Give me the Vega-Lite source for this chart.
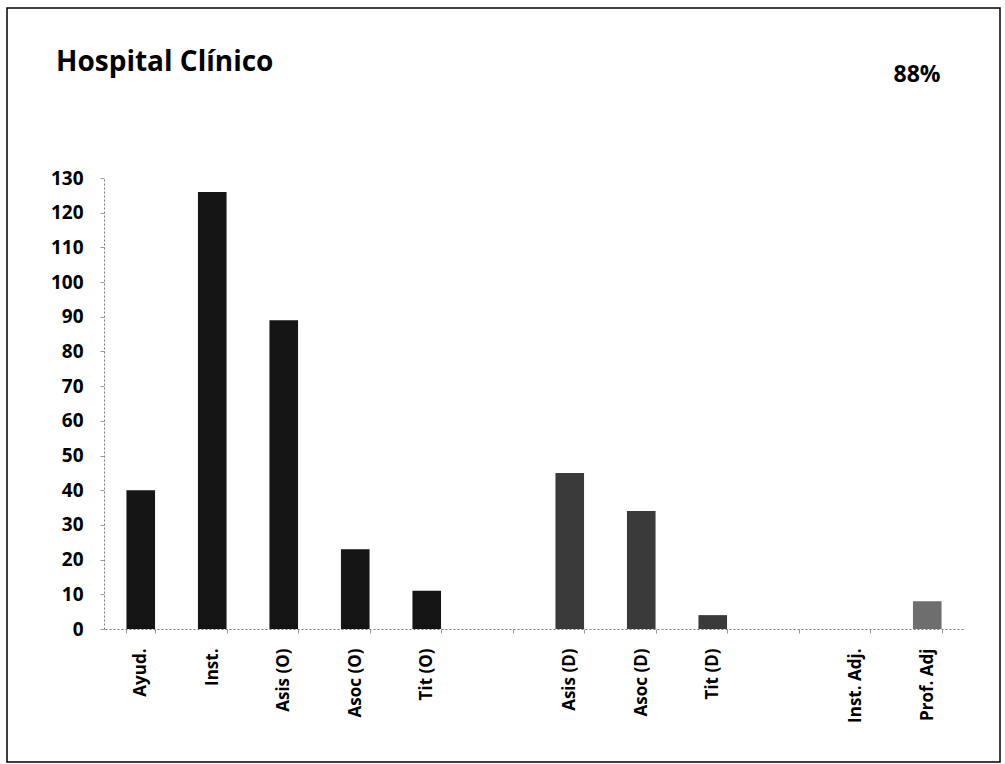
{
  "$schema": "https://vega.github.io/schema/vega-lite/v6.json",
  "width": 993,
  "height": 754,
  "autosize": {"type": "none"},
  "padding": {"left": 7, "top": 8, "right": 5, "bottom": 2},
  "background": "white",
  "title": {
    "text": "Hospital Clínico",
    "anchor": "start",
    "frame": "group",
    "orient": "top",
    "dx": 49,
    "offset": -91,
    "baseline": "alphabetic",
    "font": "Open Sans",
    "fontSize": 28,
    "fontWeight": "bold",
    "color": "#000"
  },
  "data": {
    "values": [
      {"cat": "Ayud.", "n": 40, "grp": "O"},
      {"cat": "Inst.", "n": 126, "grp": "O"},
      {"cat": "Asis (O)", "n": 89, "grp": "O"},
      {"cat": "Asoc (O)", "n": 23, "grp": "O"},
      {"cat": "Tit (O)", "n": 11, "grp": "O"},
      {"cat": "Asis (D)", "n": 45, "grp": "D"},
      {"cat": "Asoc (D)", "n": 34, "grp": "D"},
      {"cat": "Tit (D)", "n": 4, "grp": "D"},
      {"cat": "Inst. Adj.", "n": 0, "grp": "Adj"},
      {"cat": "Prof. Adj", "n": 8, "grp": "Adj"}
    ]
  },
  "mark": {"type": "bar"},
  "encoding": {
    "x": {
      "field": "cat",
      "type": "nominal",
      "sort": null,
      "scale": {
        "domain": ["Ayud.", "Inst.", "Asis (O)", "Asoc (O)", "Tit (O)", " ", "Asis (D)", "Asoc (D)", "Tit (D)", "  ", "Inst. Adj.", "Prof. Adj"],
        "range": [98, 956],
        "paddingInner": 0.6,
        "paddingOuter": 0.3
      },
      "axis": {
        "title": null,
        "labelAngle": -90,
        "labelFont": "Open Sans",
        "labelFontSize": 17,
        "labelFontWeight": "bold",
        "labelColor": "#000",
        "labelPadding": 15,
        "labelOverlap": false,
        "offset": -133,
        "domainColor": "#777",
        "domainDash": [2, 2],
        "tickBand": "extent",
        "tickSize": 4,
        "tickColor": "#999"
      }
    },
    "y": {
      "field": "n",
      "type": "quantitative",
      "scale": {"domain": [0, 130], "range": [621, 170], "nice": false},
      "axis": {
        "values": [0, 10, 20, 30, 40, 50, 60, 70, 80, 90, 100, 110, 120, 130],
        "title": "88%",
        "titleAngle": 0,
        "titleX": 789,
        "titleY": 73,
        "titleAlign": "left",
        "titleBaseline": "alphabetic",
        "titleFont": "Open Sans",
        "titleFontSize": 23,
        "titleFontWeight": "bold",
        "titleColor": "#000",
        "offset": -97,
        "labelFont": "Open Sans",
        "labelFontSize": 19,
        "labelFontWeight": "bold",
        "labelColor": "#000",
        "labelPadding": 17,
        "tickSize": 4,
        "tickColor": "#999",
        "domainColor": "#777",
        "domainDash": [2, 2],
        "grid": false
      }
    },
    "color": {
      "field": "grp",
      "type": "nominal",
      "scale": {"domain": ["O", "D", "Adj"], "range": ["#151515", "#3a3a3a", "#6e6e6e"]},
      "legend": null
    }
  },
  "config": {"view": {"stroke": "#000", "strokeWidth": 1.5}}
}
